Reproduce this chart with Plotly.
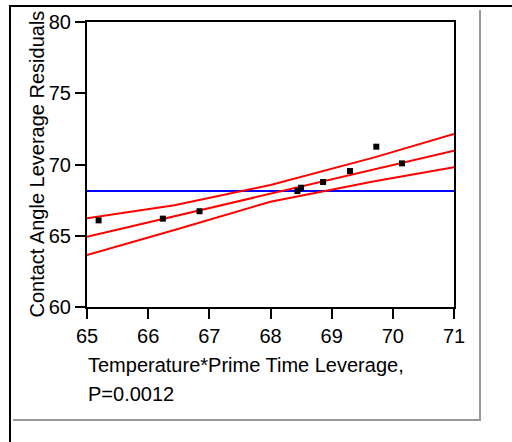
import plotly.graph_objects as go

# ---- data ----
pt_x = [65.19, 66.24, 66.84, 68.44, 68.50, 68.86, 69.30, 69.73, 70.15]
pt_y = [66.08, 66.20, 66.72, 68.14, 68.37, 68.77, 69.54, 71.25, 70.08]

fit_x = [65.0, 71.0]
fit_y = [64.93, 70.97]

band_x = [65.0, 66.43, 68.0, 69.7, 71.0]
upper_y = [66.22, 67.14, 68.56, 70.50, 72.14]
lower_y = [63.65, 65.40, 67.39, 68.83, 69.80]

mean_y = 68.14

x_ticks = [65, 66, 67, 68, 69, 70, 71]
y_ticks = [60, 65, 70, 75, 80]

x_title_1 = "Temperature*Prime Time Leverage,"
x_title_2 = "P=0.0012"
y_title = "Contact Angle Leverage Residuals"

# ---- layout geometry (pixels) ----
W, H = 512, 442
L, R, T, B = 87, 58, 22, 135
pw = W - L - R
ph = H - T - B


def px2x(px):
    return (px - L) / pw


def py2y(py):
    return (H - B - py) / ph


FONT = "Liberation Sans, Arial, sans-serif"

fig = go.Figure()

fig.add_trace(go.Scatter(x=[x_ticks[0], x_ticks[-1]], y=[mean_y, mean_y], mode="lines",
                         line=dict(color="#0000ff", width=2), hoverinfo="skip"))
fig.add_trace(go.Scatter(x=band_x, y=upper_y, mode="lines",
                         line=dict(color="#ff0000", width=2)))
fig.add_trace(go.Scatter(x=band_x, y=lower_y, mode="lines",
                         line=dict(color="#ff0000", width=2)))
fig.add_trace(go.Scatter(x=fit_x, y=fit_y, mode="lines",
                         line=dict(color="#ff0000", width=2)))
fig.add_trace(go.Scatter(x=pt_x, y=pt_y, mode="markers",
                         marker=dict(symbol="square", size=6, color="black",
                                     line=dict(width=0))))

axis_common = dict(
    showgrid=False, zeroline=False, showline=True, linecolor="black", linewidth=2,
    mirror=True, ticks="outside", ticklen=10, tickwidth=2, tickcolor="black",
    tickfont=dict(family=FONT, size=20, color="black"),
)

fig.update_xaxes(range=[x_ticks[0], x_ticks[-1]], tickvals=x_ticks, **axis_common)
fig.update_yaxes(range=[y_ticks[0], y_ticks[-1]], tickvals=y_ticks, **axis_common)

annotations = [
    dict(text=x_title_1, xref="paper", yref="paper", x=px2x(87), y=py2y(353),
         xanchor="left", yanchor="top", showarrow=False,
         font=dict(family=FONT, size=20, color="black"), borderpad=0),
    dict(text=x_title_2, xref="paper", yref="paper", x=px2x(87), y=py2y(382),
         xanchor="left", yanchor="top", showarrow=False,
         font=dict(family=FONT, size=20, color="black"), borderpad=0),
    dict(text=y_title, xref="paper", yref="paper", x=px2x(36), y=0.5,
         xanchor="center", yanchor="middle", textangle=-90, showarrow=False,
         font=dict(family=FONT, size=20, color="black"), borderpad=0),
]

# page frame lines (pixel positions in the 512x442 page): x0, y0, x1, y1, colour, width
frame_lines = [
    (9, 6, 512, 6, "#000000", 2),
    (10, 5, 10, 442, "#000000", 2),
    (480, 10, 480, 421, "#999999", 2),
    (13, 420, 481, 420, "#999999", 2),
]
shapes = [
    dict(type="line", xref="paper", yref="paper",
         x0=px2x(a), x1=px2x(c), y0=py2y(b), y1=py2y(d),
         line=dict(color=col, width=w), layer="above")
    for a, b, c, d, col, w in frame_lines
]

fig.update_layout(
    width=W, height=H,
    margin=dict(l=L, r=R, t=T, b=B, pad=0),
    paper_bgcolor="white", plot_bgcolor="white",
    showlegend=False,
    annotations=annotations,
    shapes=shapes,
    font=dict(family=FONT, color="black"),
)

fig.write_html(
    "out.html",
    config={"displayModeBar": False, "staticPlot": True},
    post_script="document.body.style.margin='0px';document.body.style.padding='0px';",
)
